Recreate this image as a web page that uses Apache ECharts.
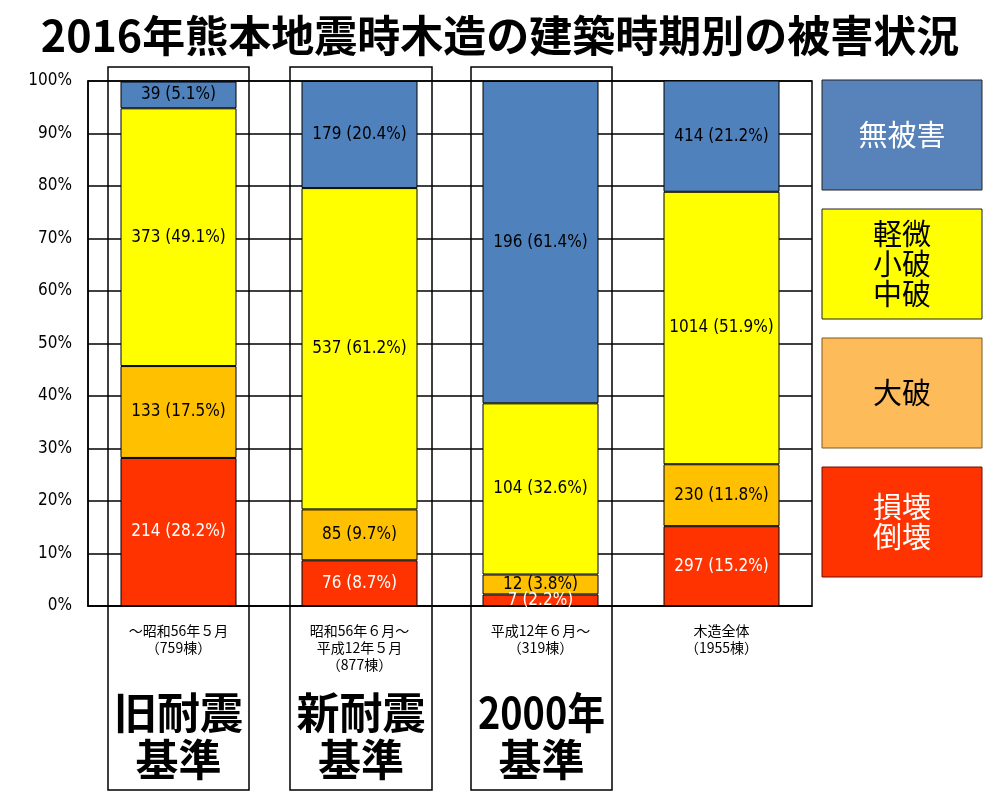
<!DOCTYPE html>
<html>
<head>
<meta charset="utf-8">
<script src="https://cdn.jsdelivr.net/npm/echarts@6/dist/echarts.min.js"></script>
<style>html,body{margin:0;padding:0;background:#fff}#c{width:1000px;height:800px}</style>
</head>
<body>
<div id="c"></div>
<script>
const categories = ['～昭和56年５月\n（759棟）', '昭和56年６月～\n平成12年５月\n（877棟）', '平成12年６月～\n（319棟）', '木造全体\n（1955棟）'];
const seriesNames = ['損壊倒壊', '大破', '軽微小破中破', '無被害'];
const collapseCount = [214, 76, 7, 297];
const collapsePct = [28.2, 8.7, 2.2, 15.2];
const severeCount = [133, 85, 12, 230];
const severePct = [17.5, 9.7, 3.8, 11.8];
const minorCount = [373, 537, 104, 1014];
const minorPct = [49.1, 61.2, 32.6, 51.9];
const noneCount = [39, 179, 196, 414];
const nonePct = [5.1, 20.4, 61.4, 21.2];
const yTicks = [0, 10, 20, 30, 40, 50, 60, 70, 80, 90, 100];
const standardLine1 = ['旧耐震', '新耐震', '2000年'];
const standardLine2 = ['基準', '基準', '基準'];
const legendLabels = ['無被害', '軽微\n小破\n中破', '大破', '損壊\n倒壊'];

const chart = echarts.init(document.getElementById('c'));
const labelFont = '"Liberation Sans Narrow","DejaVu Sans Condensed","Noto Sans CJK JP",sans-serif';

function mkSeries(name, pcts, counts, color, textColor) {
  return {
    name: name, type: 'bar', stack: 'all', barWidth: 116,
    data: pcts,
    itemStyle: { color: color, borderColor: '#000', borderWidth: 1 },
    label: {
      show: true, position: 'inside', color: textColor, fontSize: 17,
      fontFamily: labelFont,
      formatter: p => counts[p.dataIndex] + ' (' + pcts[p.dataIndex].toFixed(1) + '%)'
    }
  };
}

const boxes = [[108, 67, 141, 723], [290, 67, 142, 723], [471, 67, 141, 723]];
const graphics = [];
boxes.forEach((b, i) => {
  graphics.push({ type: 'rect', z: 100, shape: { x: b[0], y: b[1], width: b[2], height: b[3] },
    style: { fill: null, stroke: '#000', lineWidth: 1.5 } });
  graphics.push({ type: 'text', z: 100, x: b[0] + b[2] / 2, y: 713, scaleX: i === 2 ? 0.88 : 1,
    style: { text: standardLine1[i], fill: '#000', font: 'bold 43px "Noto Sans CJK JP"',
      align: 'center', verticalAlign: 'middle' } });
  graphics.push({ type: 'text', z: 100, x: b[0] + b[2] / 2, y: 760,
    style: { text: standardLine2[i], fill: '#000', font: 'bold 43px "Noto Sans CJK JP"',
      align: 'center', verticalAlign: 'middle' } });
});
const legendColors = ['#5782BA', '#FFFF00', '#FDBB5A', '#FF3300'];
const legendStrokes = ['#222', '#222', '#7a5a20', '#6a1000'];
const legendText = ['#fff', '#000', '#000', '#fff'];
legendLabels.forEach((t, i) => {
  const y = 80 + i * 129;
  graphics.push({ type: 'rect', z: 100, shape: { x: 822, y: y, width: 160, height: 110 },
    style: { fill: legendColors[i], stroke: legendStrokes[i], lineWidth: 1 } });
  graphics.push({ type: 'text', z: 101, x: 902, y: y + 55,
    style: { text: t, fill: legendText[i], font: '29px "Noto Sans CJK JP"', lineHeight: 30,
      align: 'center', verticalAlign: 'middle' } });
});

chart.setOption({
  animation: false,
  title: {
    text: '2016年熊本地震時木造の建築時期別の被害状況', left: 'center', top: 9,
    textStyle: { fontSize: 43, fontWeight: 'bold', color: '#000', fontFamily: '"Noto Sans CJK JP"' }
  },
  grid: { left: 88, right: 188, top: 81, bottom: 194, show: true, borderColor: '#000', borderWidth: 1.5 },
  xAxis: {
    type: 'category', data: categories,
    axisLine: { lineStyle: { color: '#000', width: 1.5 } },
    axisTick: { show: false },
    axisLabel: { color: '#000', fontSize: 14, lineHeight: 17, margin: 16, fontFamily: '"Noto Sans CJK JP"' }
  },
  yAxis: {
    type: 'value', min: yTicks[0], max: yTicks[yTicks.length - 1], interval: 10,
    axisLine: { show: true, lineStyle: { color: '#000', width: 1.5 } },
    axisTick: { show: false },
    splitLine: { lineStyle: { color: '#000', width: 1.5 } },
    axisLabel: { color: '#000', fontSize: 17, margin: 16, fontFamily: labelFont, formatter: '{value}%' }
  },
  series: [
    mkSeries(seriesNames[0], collapsePct, collapseCount, '#FF3300', '#fff'),
    mkSeries(seriesNames[1], severePct, severeCount, '#FFC000', '#000'),
    mkSeries(seriesNames[2], minorPct, minorCount, '#FFFF00', '#000'),
    mkSeries(seriesNames[3], nonePct, noneCount, '#4F81BD', '#000')
  ],
  graphic: graphics
});
</script>
</body>
</html>
